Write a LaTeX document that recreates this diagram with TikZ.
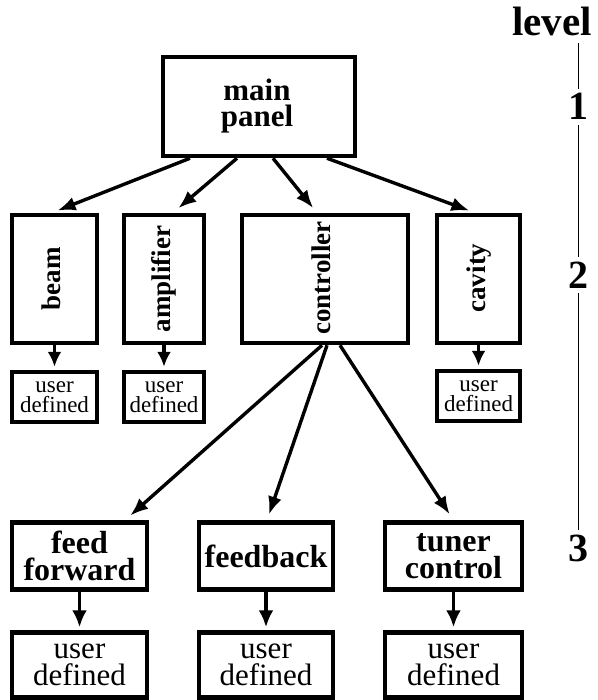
\documentclass[tikz,border=0pt]{standalone}
\usepackage{fontspec}
\setmainfont{Liberation Serif}
\usetikzlibrary{arrows.meta}
\begin{document}
\begin{tikzpicture}[x=1pt,y=-1pt,
  box/.style={draw, line width=4.5pt, inner sep=0pt, align=center},
  arr/.style={line width=3.4pt, -{Latex[length=18pt,width=14pt]}},
  toplab/.style={font=\fontsize{31}{26}\selectfont\bfseries},
  rotlab/.style={font=\fontsize{27}{27}\selectfont\bfseries, rotate=90},
  lvthree/.style={font=\fontsize{32}{26.5}\selectfont\bfseries},
  smallud/.style={font=\fontsize{23}{20}\selectfont},
  bigud/.style={font=\fontsize{31}{27}\selectfont},
  lvl/.style={font=\fontsize{40}{40}\selectfont\bfseries, anchor=base, inner sep=0pt},
  lvline/.style={line width=0.9pt}]
\useasboundingbox (0,0) rectangle (597,700);
% level 1
\node[box, minimum width=192pt, minimum height=99pt] (main) at (259,106.5) {};
\node[toplab, align=center] (maintxt) at (257,106) {main\\panel};
% level 2
\node[box, minimum width=85pt, minimum height=128pt] (beam) at (54.5,279) {};
\node[rotlab] (beamtxt) at (51,279) {beam};
\node[box, minimum width=80pt, minimum height=128pt] (amp) at (164,279) {};
\node[rotlab] (amptxt) at (164,279) {amplifier};
\node[box, minimum width=166pt, minimum height=128pt] (ctrl) at (325,279) {};
\node[rotlab] (ctrltxt) at (321,278) {controller};
\node[box, minimum width=83pt, minimum height=128pt] (cav) at (478.5,279) {};
\node[rotlab] (cavtxt) at (479,278) {cavity};
% level 2 user defined
\node[box, smallud, minimum width=85pt, minimum height=50pt] (ud1) at (54.5,397) {user\\defined};
\node[box, smallud, minimum width=80pt, minimum height=50pt] (ud2) at (164,397) {user\\defined};
\node[box, smallud, minimum width=83pt, minimum height=50pt] (ud4) at (478.5,396) {user\\defined};
% level 3
\node[box, lvthree, minimum width=135pt, minimum height=67pt] (ff) at (79.5,556) {feed\\forward};
\node[box, lvthree, minimum width=134pt, minimum height=67pt] (fb) at (266,556) {feedback};
\node[box, lvthree, minimum width=137pt, minimum height=67pt] (tc) at (453.5,556) {tuner\\control};
% level 3 user defined
\node[box, bigud, minimum width=135pt, minimum height=65pt] (ud5) at (79.5,665) {user\\defined};
\node[box, bigud, minimum width=134pt, minimum height=65pt] (ud6) at (266,665) {user\\defined};
\node[box, bigud, minimum width=137pt, minimum height=65pt] (ud7) at (453.5,665) {user\\defined};
% arrows from main panel
\draw[arr, shorten >=6pt] ([xshift=-69pt]main.south) -- ([xshift=-2.5pt]beam.north);
\draw[arr, shorten >=7pt] ([xshift=-22pt]main.south) -- ([xshift=9pt]amp.north);
\draw[arr, shorten >=6pt] ([xshift=14pt]main.south) -- ([xshift=-8pt]ctrl.north);
\draw[arr, shorten >=6pt] ([xshift=68pt]main.south) -- ([xshift=-3.5pt]cav.north);
% arrows down to user defined (level 2)
\draw[arr, -{Latex[length=15pt,width=14pt]}, shorten >=3pt] (beam.south) -- (ud1.north);
\draw[arr, -{Latex[length=15pt,width=14pt]}, shorten >=3pt] (amp.south) -- (ud2.north);
\draw[arr, -{Latex[length=15pt,width=14pt]}, shorten >=3pt] (cav.south) -- (ud4.north);
% arrows from controller
\draw[arr, shorten >=7pt] ([xshift=-3pt]ctrl.south) -- ([xshift=45.5pt]ff.north);
\draw[arr, shorten >=6pt] ([xshift=2pt]ctrl.south) -- ([xshift=1pt]fb.north);
\draw[arr, shorten >=7pt] ([xshift=15pt]ctrl.south) -- (tc.north);
% arrows down to user defined (level 3)
\draw[arr, -{Latex[length=17pt,width=15pt]}, shorten >=3pt] (ff.south) -- (ud5.north);
\draw[arr, -{Latex[length=17pt,width=15pt]}, shorten >=3pt] (fb.south) -- (ud6.north);
\draw[arr, -{Latex[length=17pt,width=15pt]}, shorten >=3pt] (tc.south) -- (ud7.north);
% level scale
\node[lvl, font=\fontsize{41}{41}\selectfont\bfseries] (lvlabel) at (552,36) {level};
\node[lvl] (l1) at (578,120) {1};
\node[lvl] (l2) at (578,288) {2};
\node[lvl] (l3) at (578,561) {3};
\draw[lvline] ([yshift=-6pt]lvlabel.south -| l1.north) -- ([yshift=4pt]l1.north);
\draw[lvline] ([yshift=-5pt]l1.south) -- ([yshift=4pt]l2.north);
\draw[lvline] ([yshift=-5pt]l2.south) -- ([yshift=4pt]l3.north);
\end{tikzpicture}
\end{document}
